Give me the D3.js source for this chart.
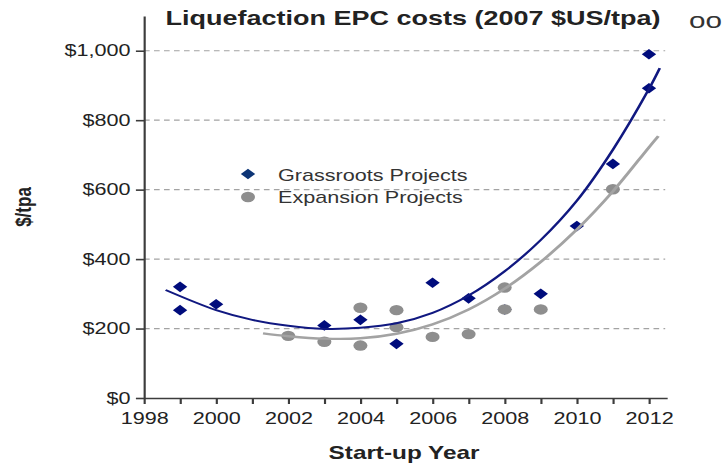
<!DOCTYPE html>
<html>
<head>
<meta charset="utf-8">
<script src="https://cdn.jsdelivr.net/npm/d3@7"></script>
<style>
  html, body { margin: 0; padding: 0; background: #fff; }
  #chart { width: 724px; height: 465px; }
</style>
</head>
<body>
<div id="chart"></div>
<script>
// datos
const grassYears = [1999, 1999, 2000, 2003, 2004, 2005, 2006, 2007, 2008, 2009, 2010, 2011, 2012, 2012];
const grassCost = [320, 253, 270, 209, 225, 156, 332, 287, 255, 300, 495, 674, 892, 990];

const expYears = [2002, 2003, 2004, 2004, 2005, 2005, 2006, 2007, 2008, 2008, 2009, 2011];
const expCost = [179, 162, 260, 151, 253, 204, 176, 184, 318, 255, 255, 601];

// lineas de tendencia
const grassTrendYears = [1998.6, 2000, 2001, 2002, 2003, 2004, 2005, 2006, 2007, 2008, 2009, 2010, 2011, 2012, 2012.3];
const grassTrendCost = [311, 253, 225, 208, 199, 202, 215, 245, 295, 365, 455, 568, 715, 890, 950];

const expTrendYears = [2001.3, 2002, 2003, 2004, 2005, 2006, 2007, 2008, 2009, 2010, 2011, 2012, 2012.26];
const expTrendCost = [186, 178, 171, 172, 185, 212, 255, 315, 392, 485, 595, 722, 754];

const yTicks = [0, 200, 400, 600, 800, 1000];
const xTicks = d3.range(1998, 2013);

const titulo = "Liquefaction EPC costs (2007 $US/tpa)";
const legendLabels = ["Grassroots Projects", "Expansion Projects"];

function crearGrafico() {
  // la imagen original esta estirada en horizontal
  const sx = 1.35;
  const width = 724, height = 465;
  const W = width / sx;
  const fuente = "Arial, 'Liberation Sans', sans-serif";
  const colorAzul = "#000c7c";
  const colorGris = "#8e8e8e";

  const svg = d3.select("#chart")
    .append("svg")
    .attr("width", width)
    .attr("height", height)
    .attr("viewBox", `0 0 ${W} ${height}`)
    .attr("preserveAspectRatio", "none")
    .style("font-family", fuente);

  const x = d3.scaleLinear().domain([1998, 2012.5]).range([144 / sx, 667 / sx]);
  const y = d3.scaleLinear().domain([0, 1100]).range([398, 16]);

  // rejilla
  svg.append("g")
    .selectAll("line")
    .data(yTicks.filter(d => d > 0))
    .join("line")
    .attr("x1", x(1998))
    .attr("x2", x(2012.45))
    .attr("y1", d => y(d))
    .attr("y2", d => y(d))
    .attr("stroke", "#a3a3a3")
    .attr("stroke-width", 1.2)
    .attr("stroke-dasharray", "4.2,3.2");

  // ejes
  const gx = svg.append("g")
    .attr("transform", `translate(0,${y(0)})`)
    .call(d3.axisBottom(x).tickValues(xTicks).tickSize(6).tickSizeOuter(0)
      .tickFormat(d => d % 2 === 0 ? d : ""));
  gx.selectAll("text")
    .attr("fill", "#222")
    .attr("font-size", 16)
    .attr("dy", "1.05em");

  const gy = svg.append("g")
    .attr("transform", `translate(${x(1998)},0)`)
    .call(d3.axisLeft(y).tickValues(yTicks).tickSize(6).tickSizeOuter(0)
      .tickFormat(d3.format("$,")));
  gy.selectAll("text")
    .attr("fill", "#222")
    .attr("font-size", 16)
    .attr("x", -10);

  svg.selectAll(".domain, .tick line")
    .attr("stroke", "#3c3c3c")
    .attr("stroke-width", 1.6);

  // puntos
  const diamond = d3.symbol().type(d3.symbolDiamond2).size(72);
  svg.append("g")
    .selectAll("path")
    .data(grassYears.map((d, i) => ({ year: d, cost: grassCost[i] })))
    .join("path")
    .attr("d", diamond)
    .attr("transform", d => `translate(${x(d.year)},${y(d.cost)})`)
    .attr("fill", colorAzul);

  svg.append("g")
    .selectAll("circle")
    .data(expYears.map((d, i) => ({ year: d, cost: expCost[i] })))
    .join("circle")
    .attr("cx", d => x(d.year))
    .attr("cy", d => y(d.cost))
    .attr("r", 5.2)
    .attr("fill", colorGris);

  // tendencias
  const linea = d3.line()
    .x(d => x(d[0]))
    .y(d => y(d[1]))
    .curve(d3.curveCatmullRom);

  svg.append("path")
    .datum(expTrendYears.map((d, i) => [d, expTrendCost[i]]))
    .attr("d", linea)
    .attr("fill", "none")
    .attr("stroke", "#a3a3a3")
    .attr("stroke-width", 2.4);

  svg.append("path")
    .datum(grassTrendYears.map((d, i) => [d, grassTrendCost[i]]))
    .attr("d", linea)
    .attr("fill", "none")
    .attr("stroke", "#101880")
    .attr("stroke-width", 2);

  // leyenda
  const leg = svg.append("g");
  leg.append("path")
    .attr("d", diamond)
    .attr("transform", `translate(${248 / sx},174)`)
    .attr("fill", "#0d3576");
  leg.append("circle")
    .attr("cx", 248 / sx)
    .attr("cy", 197)
    .attr("r", 5.2)
    .attr("fill", colorGris);
  leg.selectAll("text")
    .data(legendLabels)
    .join("text")
    .attr("x", 278 / sx)
    .attr("y", (d, i) => 175 + i * 22)
    .attr("dy", "0.35em")
    .attr("font-size", 16)
    .attr("fill", "#333")
    .text(d => d);

  // titulos
  svg.append("text")
    .attr("x", 413 / sx)
    .attr("y", 25)
    .attr("text-anchor", "middle")
    .attr("font-size", 20)
    .attr("font-weight", "700")
    .attr("fill", "#222")
    .text(titulo);

  svg.append("text")
    .attr("x", 689 / sx)
    .attr("y", 28)
    .attr("font-size", 22)
    .attr("fill", "#333")
    .text("oo");

  svg.append("text")
    .attr("transform", `translate(${31 / sx},207) rotate(-90)`)
    .attr("text-anchor", "middle")
    .attr("font-size", 17)
    .attr("font-weight", "700")
    .attr("fill", "#222")
    .text("$/tpa");

  svg.append("text")
    .attr("x", 404 / sx)
    .attr("y", 459)
    .attr("text-anchor", "middle")
    .attr("font-size", 18)
    .attr("font-weight", "700")
    .attr("fill", "#222")
    .text("Start-up Year");
}

crearGrafico();
</script>
</body>
</html>
